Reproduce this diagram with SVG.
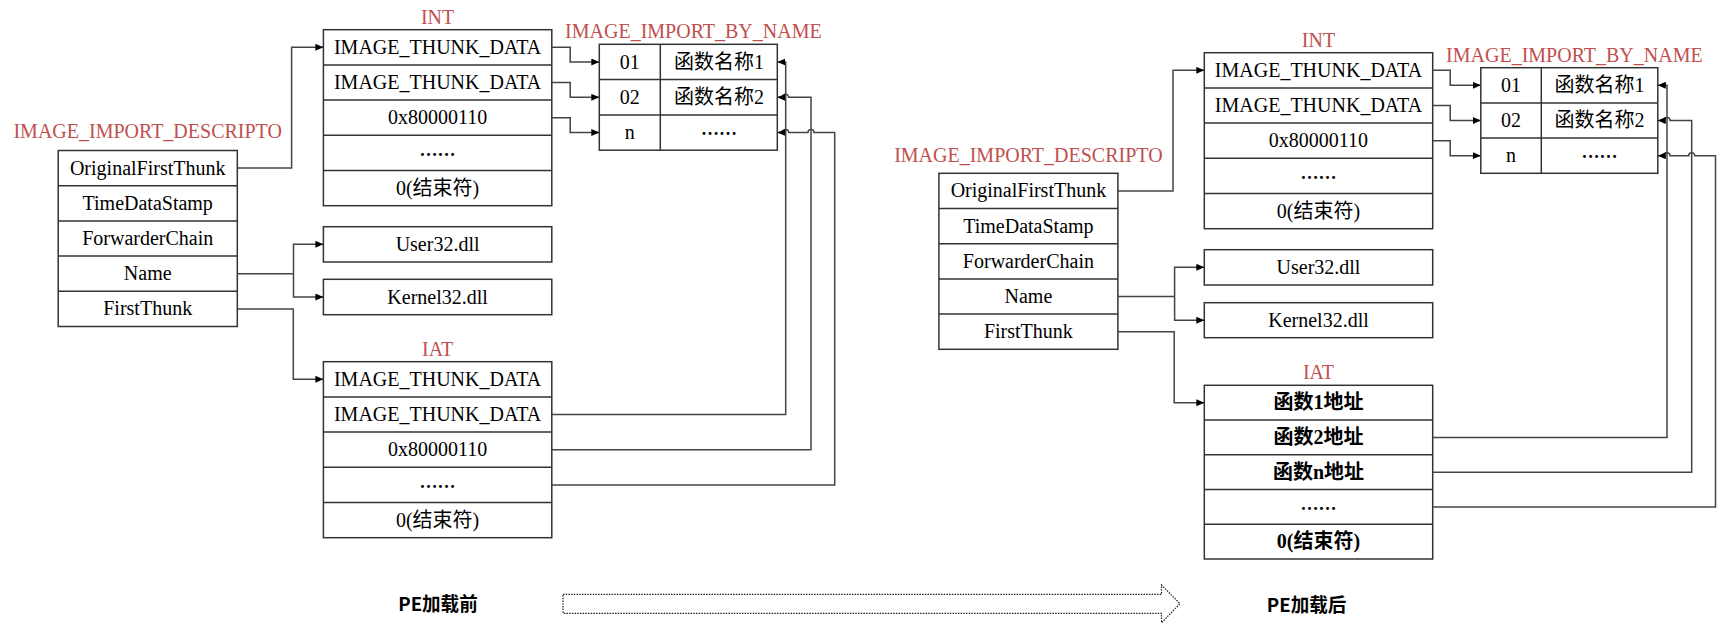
<svg xmlns="http://www.w3.org/2000/svg" width="1719" height="627" viewBox="0 0 1719 627">
<style>
.bg{fill:#fff}
.box{fill:#fff;stroke:#333;stroke-width:1.5}
.div{fill:none;stroke:#333;stroke-width:1.5}
.t{font-family:"Liberation Serif","Noto Sans CJK SC",serif;font-size:20px;text-anchor:middle;fill:#000}
.b{font-weight:bold}
.el{font-family:"Liberation Serif",serif;font-size:18px;font-weight:bold;text-anchor:middle;fill:#000}
.lbl{font-family:"Liberation Serif","Noto Sans CJK SC",serif;font-size:20px;text-anchor:middle;fill:#C0504D}
.cap{font-family:"Noto Sans CJK SC","Liberation Sans",sans-serif;font-size:19px;font-weight:bold;text-anchor:middle;fill:#000}
.con{fill:none;stroke:#444;stroke-width:1.5}
.big{fill:none;stroke:#222;stroke-width:1.2;stroke-dasharray:1.5 1.2}
</style>
<defs>
<marker id="ah" markerUnits="userSpaceOnUse" markerWidth="9" markerHeight="8" refX="8" refY="3.5" orient="auto">
<path d="M0,0 L8,3.5 L0,7 z" fill="#000"/>
</marker>
</defs>
<rect class="bg" x="0" y="0" width="1719" height="627"/>

<!-- ===== LEFT: before loading ===== -->
<g id="l-desc">
<text class="lbl" x="147.7" y="137.7">IMAGE_IMPORT_DESCRIPTO</text>
<rect class="box" x="58.2" y="150.5" width="179.1" height="176"/>
<path class="div" d="M58.2,185.7H237.3M58.2,220.9H237.3M58.2,256.1H237.3M58.2,291.3H237.3"/>
<text class="t" x="147.7" y="174.6">OriginalFirstThunk</text>
<text class="t" x="147.7" y="209.8">TimeDataStamp</text>
<text class="t" x="147.7" y="245">ForwarderChain</text>
<text class="t" x="147.7" y="280.2">Name</text>
<text class="t" x="147.7" y="315.4">FirstThunk</text>
</g>

<g id="l-int">
<text class="lbl" x="437.6" y="24">INT</text>
<rect class="box" x="323.4" y="29.7" width="228.4" height="176"/>
<path class="div" d="M323.4,64.9H551.8M323.4,100.1H551.8M323.4,135.3H551.8M323.4,170.5H551.8"/>
<text class="t" x="437.6" y="53.8">IMAGE_THUNK_DATA</text>
<text class="t" x="437.6" y="89">IMAGE_THUNK_DATA</text>
<text class="t" x="437.6" y="124.2">0x80000110</text>
<text class="el" x="437.6" y="155.5">……</text>
<text class="t" x="437.6" y="194.6">0(结束符)</text>
</g>

<g id="l-user32">
<rect class="box" x="323.4" y="226.7" width="228.4" height="35.3"/>
<text class="t" x="437.6" y="250.9">User32.dll</text>
</g>
<g id="l-kernel32">
<rect class="box" x="323.4" y="279.3" width="228.4" height="35.4"/>
<text class="t" x="437.6" y="303.5">Kernel32.dll</text>
</g>

<g id="l-iat">
<text class="lbl" x="437.6" y="355.7">IAT</text>
<rect class="box" x="323.4" y="361.7" width="228.4" height="176"/>
<path class="div" d="M323.4,396.9H551.8M323.4,432.1H551.8M323.4,467.3H551.8M323.4,502.5H551.8"/>
<text class="t" x="437.6" y="385.8">IMAGE_THUNK_DATA</text>
<text class="t" x="437.6" y="421">IMAGE_THUNK_DATA</text>
<text class="t" x="437.6" y="456.2">0x80000110</text>
<text class="el" x="437.6" y="487.5">……</text>
<text class="t" x="437.6" y="526.6">0(结束符)</text>
</g>

<g id="l-ibn">
<text class="lbl" x="693.4" y="37.7">IMAGE_IMPORT_BY_NAME</text>
<rect class="box" x="599.3" y="44.3" width="178" height="105.9"/>
<path class="div" d="M599.3,79.6H777.3M599.3,114.9H777.3M660.3,44.3V150.2"/>
<text class="t" x="629.8" y="68.5">01</text>
<text class="t" x="719" y="68.5">函数名称1</text>
<text class="t" x="629.8" y="103.8">02</text>
<text class="t" x="719" y="103.8">函数名称2</text>
<text class="t" x="629.8" y="139.1">n</text>
<text class="el" x="719" y="134.5">……</text>
</g>

<text class="cap" x="438" y="611" textLength="79.5" lengthAdjust="spacingAndGlyphs">PE加载前</text>

<!-- ===== RIGHT: after loading ===== -->
<g id="r-desc">
<text class="lbl" x="1028.4" y="161.7">IMAGE_IMPORT_DESCRIPTO</text>
<rect class="box" x="938.9" y="173.3" width="179" height="176"/>
<path class="div" d="M938.9,208.5H1117.9M938.9,243.7H1117.9M938.9,278.9H1117.9M938.9,314.1H1117.9"/>
<text class="t" x="1028.4" y="197.4">OriginalFirstThunk</text>
<text class="t" x="1028.4" y="232.6">TimeDataStamp</text>
<text class="t" x="1028.4" y="267.8">ForwarderChain</text>
<text class="t" x="1028.4" y="303">Name</text>
<text class="t" x="1028.4" y="338.2">FirstThunk</text>
</g>

<g id="r-int">
<text class="lbl" x="1318.5" y="46.7">INT</text>
<rect class="box" x="1204.3" y="52.7" width="228.4" height="176"/>
<path class="div" d="M1204.3,87.9H1432.7M1204.3,123.1H1432.7M1204.3,158.3H1432.7M1204.3,193.5H1432.7"/>
<text class="t" x="1318.5" y="76.8">IMAGE_THUNK_DATA</text>
<text class="t" x="1318.5" y="112">IMAGE_THUNK_DATA</text>
<text class="t" x="1318.5" y="147.2">0x80000110</text>
<text class="el" x="1318.5" y="178.5">……</text>
<text class="t" x="1318.5" y="217.6">0(结束符)</text>
</g>

<g id="r-user32">
<rect class="box" x="1204.3" y="249.7" width="228.4" height="35.3"/>
<text class="t" x="1318.5" y="273.9">User32.dll</text>
</g>
<g id="r-kernel32">
<rect class="box" x="1204.3" y="302.7" width="228.4" height="35"/>
<text class="t" x="1318.5" y="326.7">Kernel32.dll</text>
</g>

<g id="r-iat">
<text class="lbl" x="1318.5" y="379">IAT</text>
<rect class="box" x="1204.3" y="385.3" width="228.4" height="173.7"/>
<path class="div" d="M1204.3,420H1432.7M1204.3,454.8H1432.7M1204.3,489.5H1432.7M1204.3,524.3H1432.7"/>
<text class="t b" x="1318.5" y="409.3">函数1地址</text>
<text class="t b" x="1318.5" y="444">函数2地址</text>
<text class="t b" x="1318.5" y="478.8">函数n地址</text>
<text class="el" x="1318.5" y="509.5">……</text>
<text class="t b" x="1318.5" y="548.3">0(结束符)</text>
</g>

<g id="r-ibn">
<text class="lbl" x="1574.4" y="61.7">IMAGE_IMPORT_BY_NAME</text>
<rect class="box" x="1480.8" y="67.7" width="177" height="105.6"/>
<path class="div" d="M1480.8,102.9H1657.8M1480.8,138.1H1657.8M1541.3,67.7V173.3"/>
<text class="t" x="1511" y="91.8">01</text>
<text class="t" x="1599.5" y="91.8">函数名称1</text>
<text class="t" x="1511" y="127">02</text>
<text class="t" x="1599.5" y="127">函数名称2</text>
<text class="t" x="1511" y="162.2">n</text>
<text class="el" x="1599.5" y="157.5">……</text>
</g>

<text class="cap" x="1306.6" y="612" textLength="79.5" lengthAdjust="spacingAndGlyphs">PE加载后</text>

<!-- ===== CONNECTORS ===== -->
<g id="connectors">
<!-- left -->
<path class="con" marker-end="url(#ah)" d="M237.3,168.1H291.6V47.3H323.4"/>
<path class="con" d="M237.3,273.7H293.5"/>
<path class="con" marker-end="url(#ah)" d="M293.5,273.7V244.35H323.4"/>
<path class="con" marker-end="url(#ah)" d="M293.5,273.7V297H323.4"/>
<path class="con" marker-end="url(#ah)" d="M237.3,308.9H293.3V379.3H323.4"/>
<path class="con" marker-end="url(#ah)" d="M551.8,47.3H570.2V62H599.3"/>
<path class="con" marker-end="url(#ah)" d="M551.8,82.5H570.2V97.3H599.3"/>
<path class="con" marker-end="url(#ah)" d="M551.8,117.7H570.2V132.5H599.3"/>
<path class="con" marker-end="url(#ah)" d="M551.8,414.5H785.7V62H777.3"/>
<path class="con" marker-end="url(#ah)" d="M551.8,449.7H811V97.3H788.7a3,3 0 0 0 -6,0H777.3"/>
<path class="con" marker-end="url(#ah)" d="M551.8,484.9H834.7V132.5H814a3,3 0 0 0 -6,0H788.7a3,3 0 0 0 -6,0H777.3"/>
<!-- right -->
<path class="con" marker-end="url(#ah)" d="M1117.9,190.9H1173V70.3H1204.3"/>
<path class="con" d="M1117.9,296.5H1174.6"/>
<path class="con" marker-end="url(#ah)" d="M1174.6,296.5V267.35H1204.3"/>
<path class="con" marker-end="url(#ah)" d="M1174.6,296.5V320.2H1204.3"/>
<path class="con" marker-end="url(#ah)" d="M1117.9,331.7H1174.2V402.7H1204.3"/>
<path class="con" marker-end="url(#ah)" d="M1432.7,70.3H1450.2V85.3H1480.8"/>
<path class="con" marker-end="url(#ah)" d="M1432.7,105.5H1450.2V120.5H1480.8"/>
<path class="con" marker-end="url(#ah)" d="M1432.7,140.7H1450.2V155.7H1480.8"/>
<path class="con" marker-end="url(#ah)" d="M1432.7,437.4H1667V85.3H1657.8"/>
<path class="con" marker-end="url(#ah)" d="M1432.7,472.2H1691.7V120.5H1670a3,3 0 0 0 -6,0H1657.8"/>
<path class="con" marker-end="url(#ah)" d="M1432.7,506.9H1715.5V155.7H1694.7a3,3 0 0 0 -6,0H1670a3,3 0 0 0 -6,0H1657.8"/>
</g>

<g id="transition-arrow">
<path class="big" d="M563,594.3H1161.5V585L1180,603.7L1161.5,622.7V613.3H563Z"/>
</g>
</svg>
